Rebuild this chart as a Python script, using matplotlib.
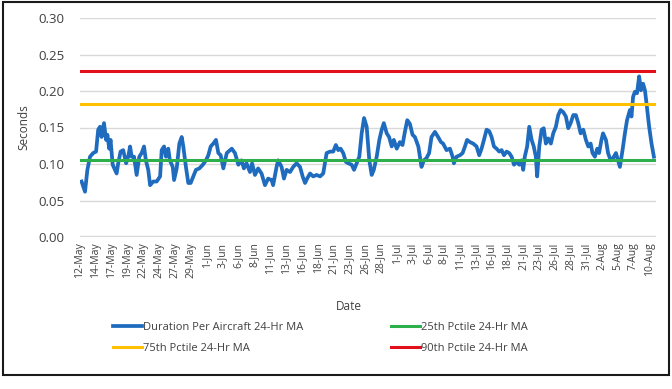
import matplotlib
matplotlib.use("Agg")
import matplotlib.pyplot as plt
import matplotlib.patches as mpatches
import pandas as pd

plt.rcParams['font.family'] = ['Open Sans', 'DejaVu Sans']

start = pd.Timestamp("2019-05-12 00:00")

# hours since 12-May 00:00
hours = [6, 19, 28, 38, 50, 61, 69, 76, 82, 91, 99, 104, 111, 116, 124, 133, 139, 145,
         154, 164, 175, 183, 190, 196, 205, 215, 225, 234, 243, 250, 259, 266, 278, 291,
         304, 310, 319, 326, 335, 341, 352, 357, 367, 377, 386, 392, 402, 411, 420, 430,
         440, 453, 466, 478, 487, 496, 506, 516, 525, 534, 544, 557, 576, 588, 601, 613,
         622, 632, 645, 653, 664, 676, 689, 702, 714, 727, 733, 746, 752, 765, 774, 784,
         797, 809, 822, 835, 845, 854, 862, 873, 885, 898, 911, 923, 936, 949, 961, 971,
         980, 989, 999, 1009, 1018, 1031, 1040, 1050, 1060, 1069, 1078, 1088, 1098, 1107,
         1115, 1126, 1136, 1145, 1153, 1164, 1173, 1183, 1191, 1202, 1214, 1224, 1233,
         1242, 1252, 1262, 1271, 1284, 1296, 1305, 1315, 1325, 1334, 1347, 1359, 1370,
         1378, 1391, 1404, 1414, 1419, 1429, 1442, 1452, 1461, 1469, 1480, 1492, 1505,
         1515, 1524, 1533, 1543, 1553, 1562, 1571, 1581, 1591, 1600, 1609, 1619, 1629,
         1638, 1647, 1657, 1667, 1676, 1682, 1688, 1697, 1705, 1714, 1722, 1730, 1735,
         1743, 1752, 1760, 1768, 1777, 1787, 1796, 1806, 1815, 1824, 1834, 1844, 1853,
         1862, 1872, 1882, 1891, 1900, 1910, 1920, 1929, 1938, 1945, 1954, 1963, 1970,
         1979, 1985, 1996, 2004, 2014, 2023, 2034, 2042, 2049, 2059, 2068, 2076, 2087,
         2093, 2099, 2106, 2114, 2122, 2129, 2137, 2144, 2150, 2160, 2169, 2178]

duration = [0.076, 0.062, 0.092, 0.110, 0.115, 0.117, 0.147, 0.151, 0.137, 0.156, 0.133,
            0.140, 0.121, 0.133, 0.099, 0.092, 0.087, 0.101, 0.117, 0.119, 0.101, 0.110,
            0.124, 0.110, 0.110, 0.085, 0.110, 0.115, 0.124, 0.105, 0.092, 0.071, 0.076,
            0.076, 0.083, 0.119, 0.124, 0.110, 0.121, 0.105, 0.096, 0.078, 0.094, 0.128,
            0.137, 0.124, 0.096, 0.074, 0.074, 0.083, 0.092, 0.094, 0.099, 0.105, 0.112,
            0.124, 0.128, 0.133, 0.115, 0.112, 0.094, 0.115, 0.121, 0.115, 0.099, 0.105,
            0.094, 0.101, 0.089, 0.101, 0.085, 0.094, 0.087, 0.071, 0.080, 0.078, 0.071,
            0.096, 0.105, 0.096, 0.080, 0.092, 0.089, 0.096, 0.101, 0.096, 0.083, 0.074,
            0.080, 0.087, 0.083, 0.085, 0.083, 0.087, 0.115, 0.117, 0.117, 0.126, 0.119,
            0.121, 0.115, 0.103, 0.101, 0.099, 0.092, 0.101, 0.110, 0.142, 0.163, 0.151,
            0.105, 0.085, 0.092, 0.110, 0.133, 0.147, 0.156, 0.142, 0.137, 0.124, 0.133,
            0.121, 0.130, 0.126, 0.144, 0.160, 0.155, 0.140, 0.137, 0.124, 0.096, 0.105,
            0.108, 0.115, 0.137, 0.144, 0.137, 0.130, 0.128, 0.119, 0.121, 0.110, 0.101,
            0.110, 0.112, 0.115, 0.124, 0.133, 0.130, 0.128, 0.124, 0.112, 0.121, 0.133,
            0.147, 0.145, 0.137, 0.124, 0.121, 0.117, 0.119, 0.112, 0.117, 0.115, 0.110,
            0.099, 0.103, 0.099, 0.105, 0.092, 0.110, 0.124, 0.151, 0.133, 0.124, 0.110,
            0.083, 0.124, 0.147, 0.149, 0.128, 0.135, 0.128, 0.142, 0.151, 0.167, 0.174,
            0.171, 0.165, 0.149, 0.156, 0.167, 0.167, 0.156, 0.142, 0.147, 0.133, 0.124,
            0.128, 0.115, 0.110, 0.121, 0.115, 0.133, 0.142, 0.133, 0.115, 0.105, 0.108,
            0.115, 0.105, 0.096, 0.119, 0.142, 0.160, 0.174, 0.165, 0.192, 0.199, 0.197,
            0.220, 0.201, 0.210, 0.201, 0.183, 0.151, 0.128, 0.110]

pct25 = 0.106
pct75 = 0.1825
pct90 = 0.228

series_names = ["Duration Per Aircraft 24-Hr MA", "25th Pctile 24-Hr MA",
                "75th Pctile 24-Hr MA", "90th Pctile 24-Hr MA"]
tick_hours = list(range(0, 2161, 60))
tick_labels = [f"{(start + pd.Timedelta(hours=h)).day}-{(start + pd.Timedelta(hours=h)).strftime('%b')}"
               for h in tick_hours]
y_ticks = [0.00, 0.05, 0.10, 0.15, 0.20, 0.25, 0.30]

W, H = 672, 389
fig = plt.figure(figsize=(W / 100, H / 100), dpi=100)
ax = fig.add_axes([80 / W, 1 - 237 / H, (656 - 80) / W, (237 - 18) / H])

x_end = 2186
blue, green, yellow, red = "#1f6cbf", "#2db04b", "#ffc000", "#e2101a"
l_dur, = ax.plot(hours, duration, color=blue, lw=2.7, zorder=3, solid_joinstyle='round')
l25, = ax.plot([0, x_end], [pct25, pct25], color=green, lw=2.2, zorder=4)
l75, = ax.plot([0, x_end], [pct75, pct75], color=yellow, lw=2.2, zorder=4)
l90, = ax.plot([0, x_end], [pct90, pct90], color=red, lw=2.2, zorder=4)

ax.set_xlim(0, x_end)
ax.set_ylim(0, 0.30)
ax.set_yticks(y_ticks)
ax.set_yticklabels([f"{v:.2f}" for v in y_ticks], fontsize=9.5, color="#404040")
ax.set_xticks(tick_hours)
ax.set_xticklabels(tick_labels, rotation=90, fontsize=7.5, color="#404040")
ax.tick_params(axis='both', length=0)
ax.tick_params(axis='y', pad=11)
ax.tick_params(axis='x', pad=4)
for s in ax.spines.values():
    s.set_visible(False)
ax.grid(axis='y', color="#d9d9d9", lw=1)
ax.axhline(0, color="#d9d9d9", lw=2.5, zorder=1)

ax.set_ylabel("Seconds", fontsize=8.5, color="#404040", labelpad=6)
fig.text(349 / W, 1 - 307 / H, "Date", fontsize=8.5, color="#404040", ha='center', va='center')

leg = fig.legend([l_dur, l75, l25, l90],
                 [series_names[0], series_names[2], series_names[1], series_names[3]],
                 ncol=2, loc='center', bbox_to_anchor=(320 / W, 1 - 338 / H),
                 frameon=False, fontsize=8, handlelength=2.6, handletextpad=0.1,
                 columnspacing=7.9, labelspacing=0.85)
for t in leg.get_texts():
    t.set_color("#404040")

fig.patches.append(mpatches.Rectangle((3 / W, 1 - 375 / H), 666 / W, 373 / H,
                                      transform=fig.transFigure, fill=False,
                                      edgecolor="#1a1a1a", lw=1.5))

fig.savefig("out.png", dpi=100)
